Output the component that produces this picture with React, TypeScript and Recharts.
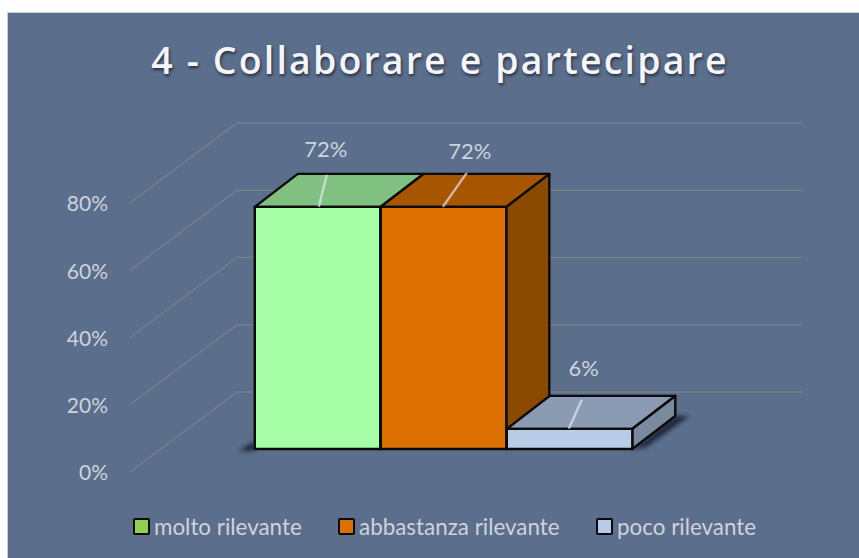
import React from "react";
import { BarChart, Bar, XAxis, YAxis, Legend, LabelList, CartesianGrid } from "recharts";

const categories = ["4 - Collaborare e partecipare"];
const seriesNames = ["molto rilevante", "abbastanza rilevante", "poco rilevante"];
const moltoValues = [72];
const abbastanzaValues = [72];
const pocoValues = [6];
const yTicks = [0, 20, 40, 60, 80];

const data = categories.map((category, i) => ({
  category,
  [seriesNames[0]]: moltoValues[i],
  [seriesNames[1]]: abbastanzaValues[i],
  [seriesNames[2]]: pocoValues[i],
}));

const BG = "#5B6E8C";
const TEXT = "#CDD3DC";
const GRID = "#787E86";
const FONT = "Lato, 'Open Sans', sans-serif";

// projection of the 3D look
const WALL_DX = 107;
const WALL_DY = -80;
const RIGHT_END = 802;
const SHIFT_X = 31;
const SHIFT_Y = -23;
const DEPTH_X = 43;
const DEPTH_Y = -33;

const styles = [
  { front: "#A6FFA6", top: "#80C080", side: "#80C080", legend: "#92D050", labelDx: 71, labelDy: -55, l0: [72, -32], l1: [64, 0], shadow: "left" },
  { front: "#DB7000", top: "#A85500", side: "#8A4B00", legend: "#DB7000", labelDx: 89, labelDy: -53, l0: [86, -34], l1: [62, 0], shadow: "" },
  { front: "#B8CCE8", top: "#8B9BB4", side: "#7A8A9E", legend: "#B8CCE8", labelDx: 77, labelDy: -58, l0: [75, -29], l1: [62, 0], shadow: "right" },
];

const Box = (props: any) => {
  const s = styles[props.idx];
  const x = props.x + SHIFT_X;
  const y = props.y + SHIFT_Y;
  const w = props.width - 0.5;
  const h = props.height;
  const pts = (a: number[][]) => a.map((p) => p.join(",")).join(" ");
  return (
    <g stroke="#0B0B0B" strokeWidth={2.4} strokeLinejoin="round">
      {s.shadow === "right" && (
        <polygon
          points={pts([[x + w, y + h + 1], [x + w + DEPTH_X, y + h + DEPTH_Y], [x + w + DEPTH_X + 14, y + h + DEPTH_Y], [x + w + 14, y + h - 2]])}
          fill="#1E2838"
          stroke="none"
          filter="url(#soft)"
        />
      )}
      {s.shadow === "left" && (
        <polygon
          points={pts([[x, y + h - 8], [x, y + h + 2], [x - 16, y + h + 2]])}
          fill="#1E2838"
          stroke="none"
          filter="url(#soft)"
        />
      )}
      <polygon points={pts([[x + w, y], [x + w + DEPTH_X, y + DEPTH_Y], [x + w + DEPTH_X, y + h + DEPTH_Y], [x + w, y + h]])} fill={s.side} />
      <polygon points={pts([[x, y], [x + DEPTH_X, y + DEPTH_Y], [x + w + DEPTH_X, y + DEPTH_Y], [x + w, y]])} fill={s.top} />
      <rect x={x} y={y} width={w} height={h} fill={s.front} />
    </g>
  );
};

const DataLabel = (props: any) => {
  const s = styles[props.idx];
  const x = props.x + SHIFT_X;
  const y = props.y + SHIFT_Y;
  return (
    <g>
      <line x1={x + s.l0[0]} y1={y + s.l0[1]} x2={x + s.l1[0]} y2={y + s.l1[1]} stroke="#E3E7EC" strokeOpacity={0.7} strokeWidth={2.4} />
      <text x={x + s.labelDx} y={y + s.labelDy} textAnchor="middle" dominantBaseline="middle" fontFamily={FONT} fontSize={22} fill={TEXT}>
        {props.value}%
      </text>
    </g>
  );
};

const WallLine = (props: any) => {
  const { x1, y1 } = props;
  return (
    <polyline
      key={y1}
      points={`${x1},${y1} ${x1 + WALL_DX},${y1 + WALL_DY} ${RIGHT_END},${y1 + WALL_DY}`}
      fill="none"
      stroke={GRID}
      strokeWidth={1.5}
    />
  );
};

const ValueTick = (props: any) => {
  const { x, y, payload } = props;
  return (
    <text x={x - 14} y={y + 3} textAnchor="end" dominantBaseline="middle" fontFamily={FONT} fontSize={21} fill={TEXT}>
      {payload.value}%
    </text>
  );
};

const LegendContent = (props: any) => {
  const lefts = [133, 338, 596];
  return (
    <div style={{ position: "relative", height: 30, fontFamily: FONT, fontSize: 22.4, color: TEXT }}>
      {(props.payload || []).map((p: any, i: number) => (
        <div key={p.value} style={{ position: "absolute", left: lefts[i], top: 0, display: "flex", alignItems: "center", height: 30, whiteSpace: "nowrap" }}>
          <span style={{ width: 13, height: 13, background: styles[i].legend, border: "2px solid #0B0B0B", borderRadius: 2, marginRight: 4, display: "inline-block" }} />
          {p.value}
        </div>
      ))}
    </div>
  );
};

export default function App() {
  return (
    <div style={{ position: "absolute", left: 0, top: 0, width: 859, height: 558, background: "#FFFFFF", overflow: "hidden" }}>
      <div style={{ position: "absolute", left: 7, top: 12, width: 852, height: 546, background: BG, borderLeft: "1px solid #C8CCD2", borderTop: "1px solid #C8CCD2" }} />
      <div
        style={{
          position: "absolute",
          left: 0,
          top: 34,
          width: 880,
          textAlign: "center",
          fontFamily: "'Open Sans', sans-serif",
          fontWeight: 600,
          fontSize: 37.5,
          letterSpacing: 2.15,
          color: "#F4F5F7",
          textShadow: "1px 2px 3px rgba(20,25,40,0.75)",
          whiteSpace: "nowrap",
        }}
      >
        {categories[0]}
      </div>
      <BarChart
        width={859}
        height={558}
        data={data}
        margin={{ top: 203, right: 164, bottom: 56, left: 70 }}
        barCategoryGap="16.6%"
        barGap={0}
        style={{ position: "absolute", left: 0, top: 0 }}
      >
        <defs>
          <filter id="soft" x="-50%" y="-50%" width="200%" height="200%">
            <feGaussianBlur stdDeviation="2" />
          </filter>
        </defs>
        <CartesianGrid vertical={false} horizontal={WallLine} syncWithTicks />
        <XAxis dataKey="category" hide />
        <YAxis width={60} domain={[0, 80]} ticks={yTicks} axisLine={false} tickLine={false} tick={<ValueTick />} interval={0} />
        {seriesNames.map((name, i) => (
          <Bar key={name} dataKey={name} fill={styles[i].legend} isAnimationActive={false} shape={(p: any) => <Box {...p} idx={i} />}>
            <LabelList dataKey={name} content={(p: any) => <DataLabel {...p} idx={i} />} />
          </Bar>
        ))}
        <Legend verticalAlign="bottom" align="left" itemSorter={null} wrapperStyle={{ left: 0, bottom: 17, width: 859 }} content={<LegendContent />} />
      </BarChart>
    </div>
  );
}
